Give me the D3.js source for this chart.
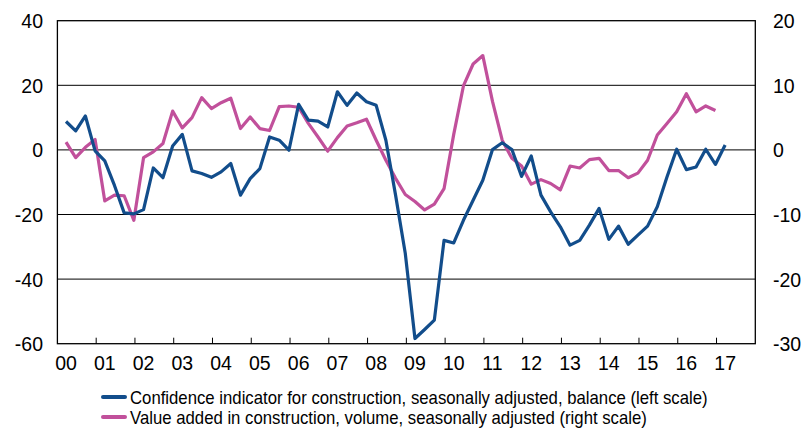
<!DOCTYPE html>
<html>
<head>
<meta charset="utf-8">
<script src="https://cdn.jsdelivr.net/npm/d3@7"></script>
<style>
  body { margin: 0; background: #fff; }
  svg { display: block; font-family: "Liberation Sans", Arial, sans-serif; }
</style>
</head>
<body>
<svg id="chart" width="804" height="428"></svg>
<script>
// quarterly data, 2000Q1 onwards
var startYear = 2000;
var yearLabels = ['00','01','02','03','04','05','06','07','08','09','10','11','12','13','14','15','16','17'];
var leftTicks = [40, 20, 0, -20, -40, -60];
var rightTicks = [20, 10, 0, -10, -20, -30];
var gridValues = [20, 0, -20, -40];

// confidence indicator, balance (left scale), 2000Q1-2017Q1
var confidence = [8.8, 5.9, 10.5, -0.3, -3.4, -11, -19.5, -19.8, -18.5, -5.6,
  -8.6, 1.2, 4.8, -6.5, -7.3, -8.5, -6.8, -4.2, -14, -8.9,
  -5.8, 4.0, 3.0, -0.1, 14.1, 9.2, 8.9, 7.1, 18, 13.8,
  17.6, 14.9, 13.8, 3.0, -14, -32, -58.4, -55.6, -52.7, -28,
  -28.8, -21.8, -15.6, -9.4, 0.1, 2.2, 0.1, -8.2, -1.9, -14,
  -19.2, -23.8, -29.5, -28, -23.3, -18.1, -27.7, -23.6, -29.2, -26.4,
  -23.6, -17.6, -8.4, 0.2, -6.1, -5.3, 0.2, -4.5, 1.5];

// value added in construction (right scale), 2000Q1-2016Q4
var valueAdded = [1.2, -1.2, 0.4, 1.6, -7.9, -7.0, -7.1, -10.9, -1.2, -0.3,
  1.0, 6.0, 3.4, 5.0, 8.1, 6.4, 7.3, 8.0, 3.3, 5.1,
  3.3, 3.0, 6.7, 6.8, 6.6, 4.1, 2.0, -0.2, 1.9, 3.7,
  4.2, 4.75, 1.5, -1.6, -4.4, -6.9, -8.0, -9.3, -8.4, -6.0,
  2.4, 9.9, 13.3, 14.6, 7.5, 1.5, -1.3, -2.5, -5.3, -4.6,
  -5.2, -6.2, -2.5, -2.8, -1.5, -1.3, -3.2, -3.2, -4.3, -3.6,
  -1.6, 2.3, 4.1, 5.9, 8.7, 5.9, 6.8, 6.1];

var legendLabels = [
  'Confidence indicator for construction, seasonally adjusted, balance (left scale)',
  'Value added in construction, volume, seasonally adjusted (right scale)'
];
var blue = '#124d8b', pink = '#c1509b';

var svg = d3.select('#chart');
var plotL = 57.4, plotR = 755.3, plotT = 20.7, plotB = 343.7;
var squeeze = 0.93; // the original font is a bit narrow

var x = d3.scaleLinear().domain([2000, 2018]).range([plotL, plotR]);
var yL = d3.scaleLinear().domain([-60, 40]).range([plotB, plotT]);
var yR = d3.scaleLinear().domain([-30, 20]).range([plotB, plotT]);

// time of a quarterly point (plotted near end of quarter)
function qt(i) { return startYear + i / 4 + 0.222; }
function fmt(d) { return d < 0 ? '-' + Math.abs(d) : String(d); }
function place(px, py) { return 'translate(' + px + ',' + py + ') scale(' + squeeze + ',1)'; }

// grid lines
svg.append('g').selectAll('line').data(gridValues).enter().append('line')
  .attr('x1', plotL).attr('x2', plotR)
  .attr('y1', function (d) { return yL(d); })
  .attr('y2', function (d) { return yL(d); })
  .attr('stroke', '#000').attr('stroke-width', 1);

// frame
svg.append('rect')
  .attr('x', plotL).attr('y', plotT)
  .attr('width', plotR - plotL).attr('height', plotB - plotT)
  .attr('fill', 'none').attr('stroke', '#000').attr('stroke-width', 1.3);

// x ticks at year boundaries (pointing up)
svg.append('g').selectAll('line').data(d3.range(2001, 2018)).enter().append('line')
  .attr('x1', function (d) { return x(d); }).attr('x2', function (d) { return x(d); })
  .attr('y1', plotB).attr('y2', plotB - 6)
  .attr('stroke', '#000').attr('stroke-width', 1);

// x labels
svg.append('g').selectAll('text').data(yearLabels).enter().append('text')
  .attr('transform', function (d, i) { return place(x(startYear + i + 0.222), 370); })
  .attr('text-anchor', 'middle')
  .attr('font-size', 21)
  .text(function (d) { return d; });

// left labels
svg.append('g').selectAll('text').data(leftTicks).enter().append('text')
  .attr('transform', function (d) { return place(43, yL(d) + 7.5); })
  .attr('text-anchor', 'end').attr('font-size', 21)
  .text(fmt);

// right labels
svg.append('g').selectAll('text').data(rightTicks).enter().append('text')
  .attr('transform', function (d) { return place(773, yR(d) + 7.5); })
  .attr('text-anchor', 'start').attr('font-size', 21)
  .text(fmt);

// lines
var lineL = d3.line().x(function (d, i) { return x(qt(i)); }).y(function (d) { return yL(d); });
var lineR = d3.line().x(function (d, i) { return x(qt(i)); }).y(function (d) { return yR(d); });

svg.append('path').datum(valueAdded).attr('d', lineR)
  .attr('fill', 'none').attr('stroke', pink).attr('stroke-width', 3.2).attr('stroke-linejoin', 'round');
svg.append('path').datum(confidence).attr('d', lineL)
  .attr('fill', 'none').attr('stroke', blue).attr('stroke-width', 3.2).attr('stroke-linejoin', 'round');

// legend
var legend = svg.append('g').selectAll('g').data(legendLabels).enter().append('g')
  .attr('transform', function (d, i) { return 'translate(0,' + (397 + i * 20) + ')'; });
legend.append('line').attr('x1', 103).attr('x2', 125).attr('y1', 0).attr('y2', 0)
  .attr('stroke', function (d, i) { return i === 0 ? blue : pink; })
  .attr('stroke-width', 4).attr('stroke-linecap', 'round');
legend.append('text').attr('transform', place(130, 6.5)).attr('font-size', 18)
  .text(function (d) { return d; });
</script>
</body>
</html>
